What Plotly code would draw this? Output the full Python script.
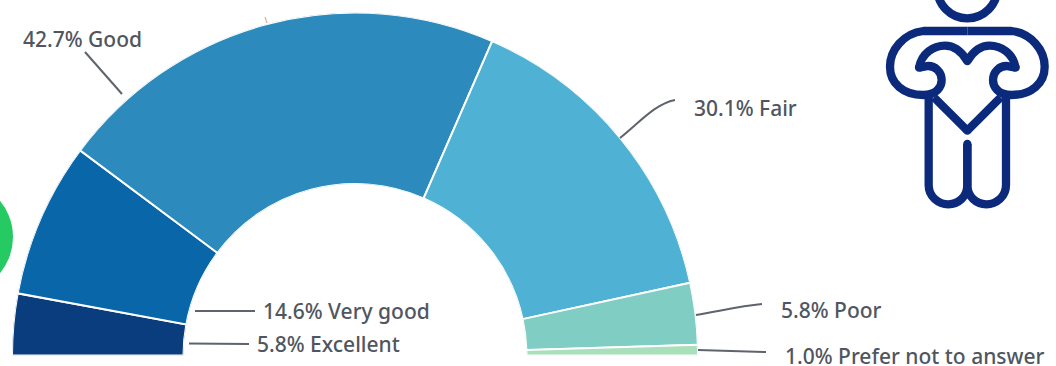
import plotly.graph_objects as go

WIDTH, HEIGHT = 1056, 366

# Survey responses, left to right around the half ring
categories = ["Excellent", "Very good", "Good", "Fair", "Poor", "Prefer not to answer"]
shares = [5.8, 14.6, 42.7, 30.1, 5.8, 1.0]
colors = ["#0A3D7E", "#0866A9", "#2C8BBC", "#4FB1D4", "#7FCDC3", "#A9DFBA"]
label_spots = [(255, 343.5), (261, 310.5), (21, 39.5), (692, 107.5), (779, 309.5), (783, 356)]

DEG_PER_PERCENT = 180 / 100
TEXT = "#505660"
ICON = "#0B2A7B"
ICON_STROKE = 8.3


def fx(x):
    return x / WIDTH


def fy(y):
    return 1 - y / HEIGHT


def path(cmds):
    """Build an SVG path in paper units from (command, x, y, x, y, ...) pixel tuples."""
    parts = []
    for cmd, *nums in cmds:
        pts = [f"{fx(nums[i])} {fy(nums[i + 1])}" for i in range(0, len(nums), 2)]
        parts.append(cmd + " " + " ".join(pts))
    return " ".join(parts)


def line_shape(cmds, color, width):
    return dict(type="path", xref="paper", yref="paper", path=path(cmds),
                line=dict(color=color, width=width), layer="above")


def disc(cx, cy, r, color):
    return dict(type="circle", xref="paper", yref="paper",
                x0=fx(cx - r), x1=fx(cx + r), y0=fy(cy + r), y1=fy(cy - r),
                fillcolor=color, line=dict(width=0), layer="above")


# Ring segments: angle runs from 180 (left) down to 0 (right)
thetas, widths = [], []
running = 0
for share in shares:
    thetas.append(180 - (running + share / 2) * DEG_PER_PERCENT)
    widths.append(share * DEG_PER_PERCENT)
    running += share

fig = go.Figure(go.Barpolar(
    r=[1] * len(shares),
    theta=thetas,
    width=widths,
    marker=dict(color=colors, line=dict(color="white", width=2)),
    hoverinfo="skip",
))

# Leader lines from the ring to each label
leaders = [
    [("M", 189, 343.5), ("L", 249, 344)],
    [("M", 195, 311), ("L", 255, 311)],
    [("M", 85, 52), ("L", 122, 94)],
    [("M", 620, 138), ("C", 640, 122, 655, 104, 675, 100)],
    [("M", 696, 315), ("C", 720, 311, 740, 306, 762, 304)],
    [("M", 698, 350), ("L", 766, 352)],
]
shapes = [line_shape(cmds, "#5E636C", 2) for cmds in leaders]

# Small stray tick above the ring
shapes.append(line_shape([("M", 265, 17), ("L", 267, 23)], "#E2B08C", 1.2))

# Green disc running off the left edge
shapes.append(disc(-44, 237, 57, "#25CB62"))


# Person holding a heart: outline drawn in a local grid, mirrored around its centre
def ic(x, y, flip=False):
    x = 644 - x if flip else x
    return 860 + x / 3, y / 3


def icon_path(segments, flip=False):
    cmds = []
    for cmd, *nums in segments:
        mapped = []
        for i in range(0, len(nums), 2):
            mapped.extend(ic(nums[i], nums[i + 1], flip))
        cmds.append((cmd, *mapped))
    return cmds


half_outline = [
    [("M", 322, 93), ("L", 190, 93), ("C", 130, 100, 90, 150, 90, 200),
     ("C", 90, 250, 130, 285, 190, 285), ("C", 230, 285, 245, 260, 245, 240),
     ("C", 245, 215, 225, 198, 205, 198), ("L", 177, 203)],
    [("M", 177, 203), ("C", 185, 160, 220, 137, 255, 137), ("C", 285, 137, 305, 155, 322, 183)],
    [("M", 222, 292), ("L", 322, 392)],
    [("M", 206, 285), ("L", 206, 555), ("C", 206, 590, 235, 613, 265, 613),
     ("C", 295, 613, 322, 590, 322, 555), ("L", 322, 432)],
]
for seg in half_outline:
    for flip in (False, True):
        shapes.append(line_shape(icon_path(seg, flip), ICON, ICON_STROKE))

# Rounded stroke ends
for x, y in [(177, 203), (467, 203), (322, 183), (322, 392), (322, 432)]:
    px, py = ic(x, y)
    shapes.append(disc(px, py, ICON_STROKE / 2, ICON))

# Head, mostly above the top edge
shapes.append(dict(type="circle", xref="paper", yref="paper",
                   x0=fx(937.3), x1=fx(997.3), y0=fy(18.3), y1=fy(-41.7),
                   line=dict(color=ICON, width=ICON_STROKE), layer="above"))

annotations = [
    dict(text=f"{share:.1f}% {name}", x=fx(px), y=fy(py), xref="paper", yref="paper",
         xanchor="left", yanchor="middle", showarrow=False,
         font=dict(family="Noto Sans", size=21, weight=500, color=TEXT))
    for name, share, (px, py) in zip(categories, shares, label_spots)
]

fig.update_layout(
    width=WIDTH, height=HEIGHT,
    margin=dict(l=0, r=0, t=0, b=0),
    paper_bgcolor="white",
    showlegend=False,
    polar=dict(
        domain=dict(x=[fx(12), fx(698)], y=[fy(356), fy(12)]),
        sector=[0, 180],
        hole=0.5,
        bgcolor="rgba(0,0,0,0)",
        radialaxis=dict(range=[0, 1], visible=False),
        angularaxis=dict(visible=False, direction="counterclockwise", rotation=0),
    ),
    shapes=shapes,
    annotations=annotations,
)

fig.write_html("out.html", config={"displayModeBar": False})
